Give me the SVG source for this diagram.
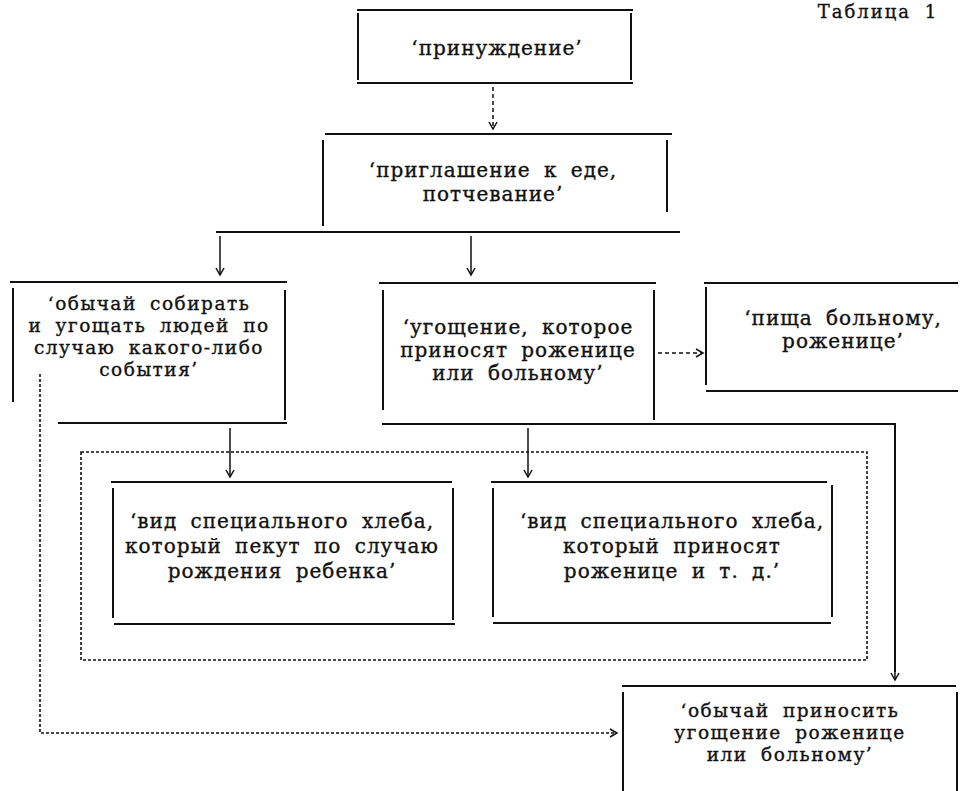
<svg xmlns="http://www.w3.org/2000/svg" width="972" height="791" viewBox="0 0 972 791">
<style>
.b{stroke:#111;stroke-width:2;fill:none;stroke-linecap:butt}
.c{stroke:#111;stroke-width:1.5;fill:none}
.d{stroke:#111;stroke-width:1.5;fill:none;stroke-dasharray:4 3}
.o{stroke:#111;stroke-width:1.6;fill:none;stroke-dasharray:3 2}
text{font-family:"DejaVu Serif","Liberation Serif",serif;font-size:20px;fill:#111;stroke:#111;stroke-width:0.35;text-anchor:middle;letter-spacing:1px;word-spacing:6px}
text.s{font-size:18.5px;letter-spacing:1.5px}
</style>
<defs>
<marker id="ar" markerUnits="userSpaceOnUse" viewBox="-8 -5 10 10" markerWidth="10" markerHeight="10" refX="0" refY="0" orient="auto">
<path d="M-7,-4 L0,0 L-7,4" stroke="#111" stroke-width="1.5" fill="none" stroke-dasharray="none"/>
</marker>
</defs>
<rect width="972" height="791" fill="#fff"/>
<text x="878" y="18" style="font-size:18px;letter-spacing:2px">Таблица 1</text>

<g id="n1">
<path class="b" d="M357,10 H633 M357,83 H633 M358,13 V80 M631,13 V80"/>
<text x="497" y="55">‘принуждение’</text>
</g>
<g id="n2">
<path class="b" d="M325,134 H672 M323,140 V226 M667,140 V212"/>
<text x="493" y="177">‘приглашение к еде,</text>
<text x="493" y="201">потчевание’</text>
</g>
<g id="n3">
<path class="b" d="M10,282 H287 M13,288 V402 M285,290 V420 M58,423 H287"/>
<text class="s" x="149" y="310">‘обычай собирать</text>
<text class="s" x="149" y="332">и угощать людей по</text>
<text class="s" x="149" y="354">случаю какого-либо</text>
<text class="s" x="149" y="376">события’</text>
</g>
<g id="n4">
<path class="b" d="M379,283 H656 M383,290 V410 M654,290 V420 M382,424 H654"/>
<text x="518" y="334">‘угощение, которое</text>
<text x="518" y="357">приносят роженице</text>
<text x="518" y="380">или больному’</text>
</g>
<g id="n5">
<path class="b" d="M704,283 H958 M706,287 V385 M706,391 H958"/>
<text x="843" y="325">‘пища больному,</text>
<text x="843" y="348">роженице’</text>
</g>
<g id="n6">
<path class="b" d="M111,482 H452 M113,488 V618 M453,488 V620 M114,624 H455"/>
<text x="282" y="528">‘вид специального хлеба,</text>
<text x="282" y="553">который пекут по случаю</text>
<text x="282" y="578">рождения ребенка’</text>
</g>
<g id="n7">
<path class="b" d="M491,482 H827 M493,488 V617 M832,485 V617 M493,623 H831"/>
<text x="672" y="528">‘вид специального хлеба,</text>
<text x="672" y="553">который приносят</text>
<text x="672" y="578">роженице и т. д.’</text>
</g>
<g id="n8">
<path class="b" d="M622,686 H956 M623,692 V791 M957,692 V791"/>
<text class="s" x="790" y="717">‘обычай приносить</text>
<text class="s" x="790" y="739">угощение роженице</text>
<text class="s" x="790" y="761">или больному’</text>
</g>

<g id="connectors">
<path class="d" d="M493,87 V129" marker-end="url(#ar)"/>
<path class="b" d="M216,232 H680"/>
<path class="c" d="M220,236 V275" marker-end="url(#ar)"/>
<path class="c" d="M471,236 V275" marker-end="url(#ar)"/>
<path class="d" d="M658,353 H703" marker-end="url(#ar)"/>
<rect class="o" x="81" y="452" width="786" height="208"/>
<path class="c" d="M230,428 V477" marker-end="url(#ar)"/>
<path class="c" d="M528,428 V477" marker-end="url(#ar)"/>
<path class="b" d="M654,424 H895 V672"/>
<path class="c" d="M895,670 V680" marker-end="url(#ar)"/>
<path class="o" d="M40,374 V733 H617" marker-end="url(#ar)"/>
</g>
</svg>
